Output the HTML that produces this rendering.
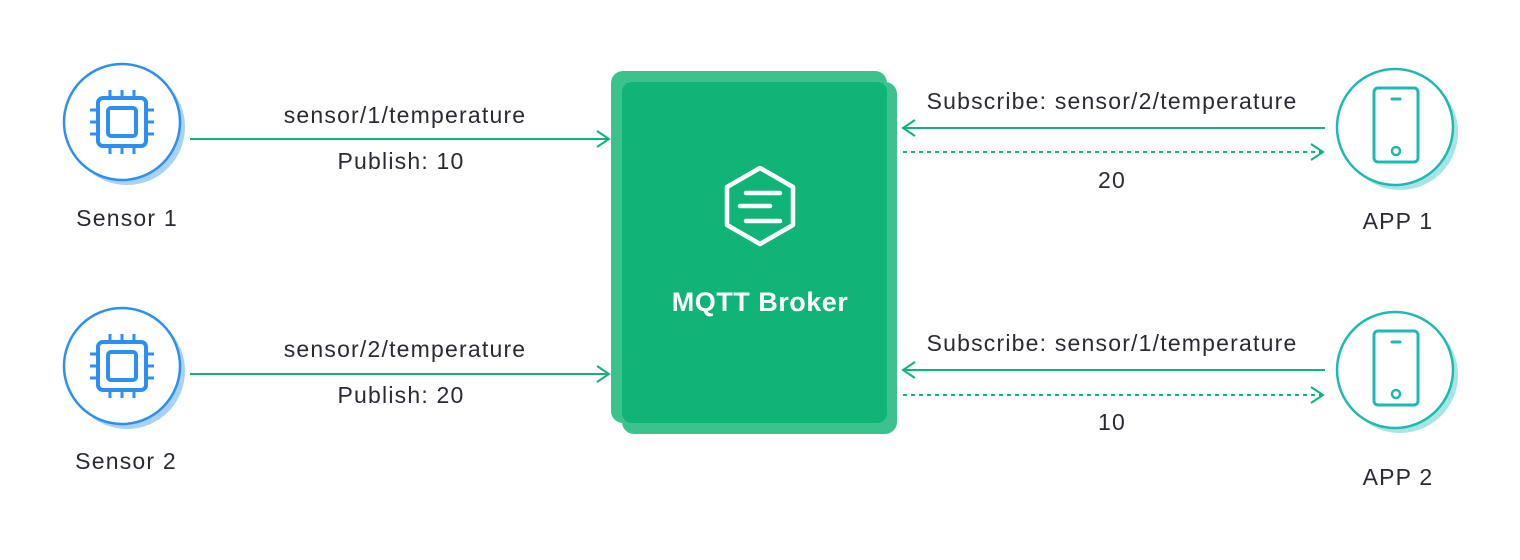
<!DOCTYPE html>
<html><head><meta charset="utf-8"><style>
html,body{margin:0;padding:0;background:#fff;}
svg{display:block;}
text{font-family:"Liberation Sans",sans-serif;fill:#2a2a35;}
</style></head><body>
<svg width="1520" height="560" viewBox="0 0 1520 560" xmlns="http://www.w3.org/2000/svg">
<defs>
<g id="chip">
  <rect x="-24" y="-24" width="48" height="48" rx="5" fill="none" stroke="#2d8ff0" stroke-width="4"/>
  <rect x="-14" y="-14" width="28" height="28" rx="3" fill="none" stroke="#2d8ff0" stroke-width="4"/>
  <g stroke="#2d8ff0" stroke-width="3">
    <path d="M-12,-24v-8M0,-24v-8M12,-24v-8M-12,24v8M0,24v8M12,24v8M-24,-12h-8M-24,0h-8M-24,12h-8M24,-12h8M24,0h8M24,12h8"/>
  </g>
</g>
<g id="phone">
  <rect x="-22" y="-37" width="44" height="74" rx="4" fill="none" stroke="#1fb8b3" stroke-width="3"/>
  <path d="M-4,-26h8" stroke="#1fb8b3" stroke-width="3" stroke-linecap="round"/>
  <circle cx="0" cy="26" r="4" fill="none" stroke="#1fb8b3" stroke-width="2.5"/>
</g>
</defs>

<circle cx="127" cy="127" r="58" fill="#a6d2fb"/>
<circle cx="122" cy="122" r="58" fill="#fff" stroke="#2d8ff0" stroke-width="2.5"/>
<use href="#chip" x="122" y="122"/>
<circle cx="127" cy="371" r="58" fill="#a6d2fb"/>
<circle cx="122" cy="366" r="58" fill="#fff" stroke="#2d8ff0" stroke-width="2.5"/>
<use href="#chip" x="122" y="366"/>

<circle cx="1400" cy="132" r="58" fill="#a4e6e3"/>
<circle cx="1395" cy="127" r="58" fill="#fff" stroke="#1fb8b3" stroke-width="2.5"/>
<use href="#phone" x="1396" y="125"/>
<circle cx="1400" cy="375" r="58" fill="#a4e6e3"/>
<circle cx="1395" cy="370" r="58" fill="#fff" stroke="#1fb8b3" stroke-width="2.5"/>
<use href="#phone" x="1396" y="368"/>

<rect x="611" y="71" width="276" height="352" rx="12" fill="#3cc28c"/>
<rect x="622" y="82" width="275" height="352" rx="12" fill="#3cc28c"/>
<rect x="622" y="82" width="265" height="341" rx="10" fill="#0fb476"/>
<path d="M760,168 L793,187 L793,225 L760,244 L727,225 L727,187 Z" fill="none" stroke="#fff" stroke-width="4.5" stroke-linejoin="round"/>
<path d="M746,193h34M740,206h30M746,221h34" stroke="#fff" stroke-width="4.5" stroke-linecap="round"/>
<text x="760" y="311" text-anchor="middle" font-size="27" font-weight="bold" letter-spacing="0.5" style="fill:#fff">MQTT Broker</text>

<g stroke="#12b27a" stroke-width="2" fill="none">
  <path d="M190,139H609M597,131l12,8l-12,8"/>
  <path d="M190,374H609M597,366l12,8l-12,8"/>
  <path d="M1325,128H903M915,120l-12,8l12,8"/>
  <path d="M903,152H1323" stroke-dasharray="4,4"/>
  <path d="M1311,144l12,8l-12,8"/>
  <path d="M1325,370H903M915,362l-12,8l12,8"/>
  <path d="M903,395H1323" stroke-dasharray="4,4"/>
  <path d="M1311,387l12,8l-12,8"/>
</g>

<g font-size="23" letter-spacing="1.2">
<text x="405" y="123" text-anchor="middle">sensor/1/temperature</text>
<text x="401" y="169" text-anchor="middle">Publish: 10</text>
<text x="405" y="357" text-anchor="middle">sensor/2/temperature</text>
<text x="401" y="403" text-anchor="middle">Publish: 20</text>
<text x="1112" y="109" text-anchor="middle">Subscribe: sensor/2/temperature</text>
<text x="1112" y="188" text-anchor="middle">20</text>
<text x="1112" y="351" text-anchor="middle">Subscribe: sensor/1/temperature</text>
<text x="1112" y="430" text-anchor="middle">10</text>
<text x="127" y="226" text-anchor="middle">Sensor 1</text>
<text x="126" y="469" text-anchor="middle">Sensor 2</text>
<text x="1398" y="229" text-anchor="middle">APP 1</text>
<text x="1398" y="485" text-anchor="middle">APP 2</text>
</g>
</svg>
</body></html>
